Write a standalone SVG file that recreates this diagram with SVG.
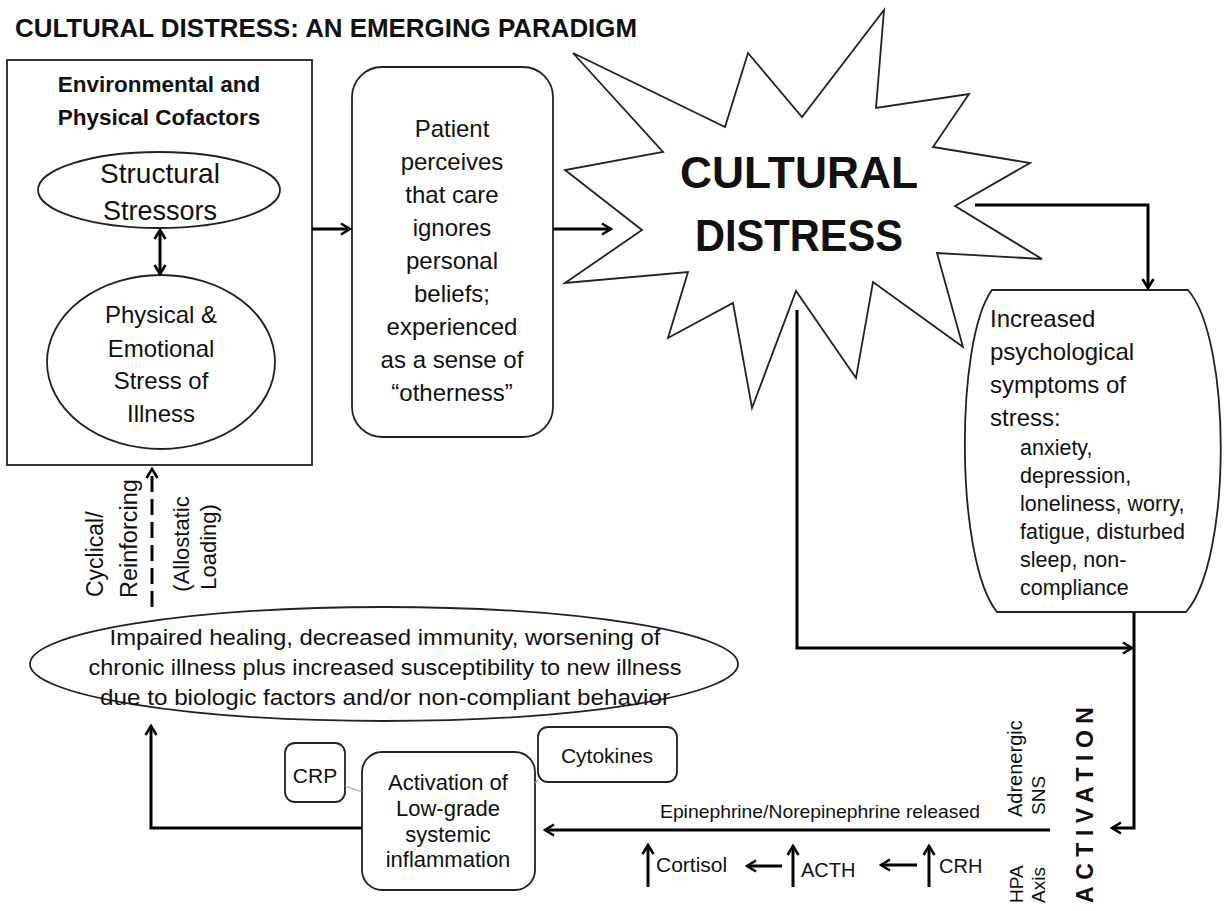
<svg xmlns="http://www.w3.org/2000/svg" width="1225" height="911" viewBox="0 0 1225 911">
<style>
text{font-family:"Liberation Sans",Arial,sans-serif;fill:#111}
.b{font-weight:bold}
.shape{fill:#fff;stroke:#222;stroke-width:1.8}
.c{text-anchor:middle}
.con{fill:none;stroke:#000;stroke-width:3}
.thin{fill:none;stroke:#8aa6c4;stroke-width:1.2}
</style>
<defs>
<marker id="a" viewBox="0 0 14 14" refX="12" refY="7" markerWidth="14" markerHeight="14" markerUnits="userSpaceOnUse" orient="auto-start-reverse">
<path d="M3,1.5 L12,7 L3,12.5" fill="none" stroke="#000" stroke-width="2.6"/>
</marker>
</defs>
<rect width="1225" height="911" fill="#fff"/>
<text id="title" class="b" x="15" y="37" font-size="25" textLength="622" lengthAdjust="spacingAndGlyphs">CULTURAL DISTRESS: AN EMERGING PARADIGM</text>

<g id="cofactors">
<rect class="shape" x="7" y="60" width="305" height="405"/>
<text class="b c" x="159" y="92" font-size="22.5">Environmental and</text>
<text class="b c" x="159" y="125" font-size="22.5">Physical Cofactors</text>
</g>
<g id="structural">
<ellipse class="shape" cx="159" cy="190" rx="121" ry="38"/>
<text class="c" x="160" y="183" font-size="28">Structural</text>
<text class="c" x="160" y="220" font-size="27">Stressors</text>
</g>
<g id="physical">
<ellipse class="shape" cx="161" cy="362" rx="114" ry="87"/>
<text class="c" x="161" y="323" font-size="24">Physical &amp;</text>
<text class="c" x="161" y="357" font-size="24">Emotional</text>
<text class="c" x="161" y="389" font-size="24">Stress of</text>
<text class="c" x="161" y="422" font-size="24">Illness</text>
</g>
<g id="patient">
<rect class="shape" x="352" y="67" width="201" height="370" rx="30"/>
<g font-size="24">
<text class="c" x="452" y="137">Patient</text>
<text class="c" x="452" y="170">perceives</text>
<text class="c" x="452" y="203">that care</text>
<text class="c" x="452" y="236">ignores</text>
<text class="c" x="452" y="269">personal</text>
<text class="c" x="452" y="302">beliefs;</text>
<text class="c" x="452" y="335">experienced</text>
<text class="c" x="452" y="368">as a sense of</text>
<text class="c" x="452" y="401">“otherness”</text>
</g>
</g>
<g id="distress">
<polygon class="shape" stroke-width="2" points="573,53 725,127 748,53 802,117 884,10 876,108 969,94 933,147 1030,163 955,206 1042,259 937,253 963,347 873,282 856,378 796,291 752,408 733,303 668,338 688,272 565,283 642,230 565,170 663,152"/>
<text class="b c" x="799" y="188" font-size="44" textLength="238" lengthAdjust="spacingAndGlyphs">CULTURAL</text>
<text class="b c" x="799" y="251" font-size="44" textLength="208" lengthAdjust="spacingAndGlyphs">DISTRESS</text>
</g>
<g id="psych">
<path class="shape" d="M992,290 L1188,290 C1232,340 1232,560 1186,612 L997,612 C955,560 955,340 992,290 Z"/>
<g font-size="24">
<text x="990" y="327">Increased</text>
<text x="990" y="360">psychological</text>
<text x="990" y="393">symptoms of</text>
<text x="990" y="426">stress:</text>
</g>
<g font-size="21.5">
<text x="1020" y="455">anxiety,</text>
<text x="1020" y="483">depression,</text>
<text x="1020" y="511">loneliness, worry,</text>
<text x="1020" y="539">fatigue, disturbed</text>
<text x="1020" y="567">sleep, non-</text>
<text x="1020" y="595">compliance</text>
</g>
</g>
<g id="outcome">
<ellipse class="shape" cx="384" cy="664" rx="354" ry="57"/>
<text class="c" x="385" y="645" font-size="22" textLength="551" lengthAdjust="spacingAndGlyphs">Impaired healing, decreased immunity, worsening of</text>
<text class="c" x="385" y="675" font-size="22" textLength="593" lengthAdjust="spacingAndGlyphs">chronic illness plus increased susceptibility to new illness</text>
<text class="c" x="385" y="705" font-size="22" textLength="570" lengthAdjust="spacingAndGlyphs">due to biologic factors and/or non-compliant behavior</text>
</g>
<g id="inflammation">
<rect class="shape" x="362" y="752" width="173" height="138" rx="20"/>
<g font-size="22">
<text class="c" x="448" y="790">Activation of</text>
<text class="c" x="448" y="816">Low-grade</text>
<text class="c" x="448" y="842">systemic</text>
<text class="c" x="448" y="867">inflammation</text>
</g>
</g>
<g id="crp">
<rect class="shape" x="285" y="743" width="60" height="59" rx="10"/>
<text class="c" x="315" y="783" font-size="21">CRP</text>
</g>
<g id="cytokines">
<rect class="shape" x="538" y="727" width="139" height="55" rx="10"/>
<text class="c" x="607" y="763" font-size="21">Cytokines</text>
</g>

<g id="labels">
<text transform="translate(103,597) rotate(-90)" font-size="23">Cyclical/</text>
<text transform="translate(137,598) rotate(-90)" font-size="23.5">Reinforcing</text>
<text class="c" transform="translate(189,544) rotate(-90)" font-size="22">(Allostatic</text>
<text class="c" transform="translate(216,547) rotate(-90)" font-size="22">Loading)</text>
<text x="660" y="818" font-size="18.5" textLength="320" lengthAdjust="spacingAndGlyphs">Epinephrine/Norepinephrine released</text>
<text transform="translate(1022,817) rotate(-90)" font-size="20">Adrenergic</text>
<text transform="translate(1045,815) rotate(-90)" font-size="19">SNS</text>
<text transform="translate(1023,903) rotate(-90)" font-size="19">HPA</text>
<text transform="translate(1045,903) rotate(-90)" font-size="19">Axis</text>
<text class="b" transform="translate(1093,903) rotate(-90)" font-size="23" textLength="196" lengthAdjust="spacing">ACTIVATION</text>
<text x="656" y="872" font-size="21">Cortisol</text>
<text x="801" y="877" font-size="20">ACTH</text>
<text x="939" y="873" font-size="20">CRH</text>
</g>

<g id="connectors">
<path class="con" d="M312,229 H350" marker-end="url(#a)"/>
<path class="con" d="M553,229 H611" marker-end="url(#a)"/>
<path class="con" d="M975,205 H1148 V288" marker-end="url(#a)"/>
<path class="con" d="M797,310 V648 H1132" marker-end="url(#a)"/>
<path class="con" d="M1134,612 V828 H1112" marker-end="url(#a)"/>
<path class="con" d="M1050,830 H545" marker-end="url(#a)"/>
<path class="con" d="M362,828 H151 V726" marker-end="url(#a)"/>
<path class="con" d="M152,607 V469" stroke-dasharray="16 7" marker-end="url(#a)"/>
<path class="con" stroke-width="2.6" d="M160,230 V274" marker-start="url(#a)" marker-end="url(#a)"/>
<path class="con" d="M648,887 V845" marker-end="url(#a)"/>
<path class="con" d="M793,887 V846" marker-end="url(#a)"/>
<path class="con" d="M929,887 V846" marker-end="url(#a)"/>
<path class="con" d="M782,866 H747" marker-end="url(#a)"/>
<path class="con" d="M917,865 H881" marker-end="url(#a)"/>
<path class="thin" d="M345,786 L362,792"/>
<path class="thin" d="M538,780 L535,783"/>
</g>
</svg>
